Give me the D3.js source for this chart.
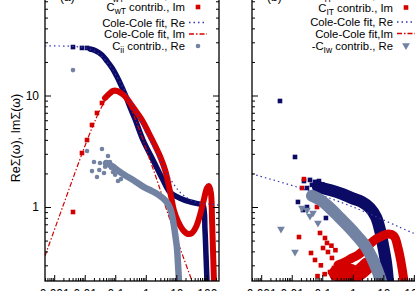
<!DOCTYPE html>
<html><head><meta charset="utf-8">
<script src="https://cdn.jsdelivr.net/npm/d3@7"></script>
<style>body{margin:0;background:#fff} svg{display:block;font-family:"Liberation Sans",Arial,Helvetica,sans-serif}</style>
</head><body><svg id="c" width="415" height="291"></svg>
<script>
// ---------- data (omega, value) ----------
const xTickValues = [0.001, 0.01, 0.1, 1, 10, 100];
const xTickLabels = ["0.001", "0.01", "0.1", "1", "10", "100"];
const yTickValues = [1, 10, 100];
const yTickLabels = ["1", "10", "100"];

// panel (a)
const aFitRe = [[0.0005,27.8],[0.0048,27.5],[0.0149,26.1],[0.0316,23.1],[0.0672,18.4],[0.143,13.2],[0.443,7.41],[1.37,3.99],[4.26,2.15],[13.2,1.36],[40.9,1.11],[127,1.06],[250,1.04]];
const aFitIm = [[0.0005,0.364],[0.00194,1.02],[0.0070,2.69],[0.0173,5.11],[0.0316,7.41],[0.0497,9.12],[0.0724,10.1],[0.106,10.5],[0.154,10.1],[0.242,8.74],[0.410,6.55],[0.751,4.25],[1.37,2.64],[2.51,1.64],[5.34,0.865],[9.76,0.538],[17.8,0.342],[32.6,0.217]];
const aWTRePts = [[0.00413,27.2],[0.00813,26.7],[0.0119,26.7]];
const aWTReBand = [[0.0149,26.1],[0.0234,25.1],[0.0367,23.1],[0.0535,20.4],[0.0781,17.7],[0.114,14.7],[0.154,12.4],[0.208,10.3],[0.303,7.88],[0.443,6.15],[0.809,3.99],[1.72,2.64],[3.66,1.75],[6.21,1.36],[13.2,1.20],[28.1,1.11],[59.7,1.06],[74.8,1.04],[86.9,0.622],[93.7,0.371],[101,0.217]];
const aWTImPts = [[0.00413,0.902],[0.00813,3.05],[0.0119,3.99],[0.0173,5.44],[0.0252,6.97],[0.0367,8.57]];
const aWTImBand = [[0.0461,9.50],[0.0623,10.3],[0.0843,11.0],[0.114,11.0],[0.154,10.5],[0.22,9.70],[0.34,8.22],[0.52,6.97],[0.78,5.91],[1.25,4.61],[2.12,3.45],[3.1,2.75],[4.4,2.10],[5.7,1.54],[7.0,1.18],[8.3,0.940],[11.6,0.733],[16.5,0.622],[24.1,0.573],[32.6,0.585],[44.1,0.662],[59.7,0.848],[80.7,1.18],[101,1.48],[118,1.54],[137,1.31],[148,0.764],[159,0.411],[171,0.217]];
const aIIRePts = [[0.00413,16.9],[0.0119,3.18],[0.0173,2.10],[0.0201,2.53],[0.0252,1.86],[0.0316,2.48],[0.0367,3.31],[0.0428,2.02],[0.0535,2.53],[0.0578,2.87],[0.0672,2.53],[0.0843,2.06],[0.123,1.71],[0.154,1.78],[0.0466,2.30],[0.0720,2.25],[0.099,1.95],[0.0300,2.15]];
const aIIReBand = [[0.0497,2.48],[0.0781,2.33],[0.143,2.06],[0.261,1.86],[0.478,1.68],[0.873,1.51],[1.60,1.39],[2.92,1.26],[4.59,1.13],[6.21,0.980],[7.78,0.764],[9.04,0.585],[10.5,0.429],[11.3,0.315],[12.2,0.217]];

// panel (b)
const bFitRe = [[0.0005,1.98],[0.0187,1.48],[1.02,1.00],[93.7,0.585],[250,0.527]];
const bITRePts = [[0.00412,8.93],[0.0128,2.81],[0.0252,1.71],[0.0396,1.75],[0.0578,1.68],[0.0781,1.71],[0.0316,1.48],[0.0160,1.11],[0.0234,0.940],[0.0316,1.00],[0.132,0.797],[0.0460,1.58],[0.100,1.60]];
const bITReBand = [[0.0724,1.51],[0.179,1.42],[0.443,1.31],[0.942,1.20],[2.00,1.11],[3.66,0.980],[5.75,0.813],[7.78,0.622],[9.76,0.456],[12.2,0.321],[14.2,0.217]];
const bITImPts = [[0.0252,1.78],[0.0217,1.48],[0.0173,0.538],[0.0672,1.00],[0.0843,0.585],[0.123,0.527],[0.143,0.476],[0.106,0.429],[0.0428,0.387],[0.0578,0.335],[0.154,0.395],[0.208,0.349],[0.242,0.284],[0.179,0.261],[0.303,0.231],[0.0900,0.300],[0.120,0.250],[0.270,0.410],[0.200,0.450],[0.0700,0.240]];
const bITImBand = [[0.327,0.302],[0.556,0.321],[0.942,0.349],[1.48,0.371],[2.33,0.411],[3.66,0.466],[5.75,0.516],[9.04,0.549],[14.2,0.573],[22.4,0.549],[30.3,0.429],[37.9,0.321],[47.5,0.217]];
const bITImBand2 = [[0.30,0.255],[0.50,0.240],[0.80,0.262],[1.27,0.250],[2.0,0.270],[3.0,0.300]];
const bIwRePts = [[0.00445,0.635],[0.0128,0.395],[0.0217,0.980],[0.0316,0.940],[0.0497,0.884],[0.0724,0.719],[0.0396,0.830]];
const bIwReBand = [[0.0461,1.26],[0.0843,1.16],[0.179,0.980],[0.381,0.797],[0.809,0.648],[1.48,0.538],[2.71,0.438],[4.26,0.349],[5.75,0.290],[7.21,0.245],[8.39,0.217]];

const legendA = [
  {pre:"C", sub:"wT", post:" contrib., Re", kind:"sq", col:"navy"},
  {pre:"C", sub:"wT", post:" contrib., Im", kind:"sq", col:"red"},
  {pre:"Cole-Cole fit, Re", sub:"", post:"", kind:"dot", col:"blue"},
  {pre:"Cole-Cole fit, Im", sub:"", post:"", kind:"dashdot", col:"red"},
  {pre:"C", sub:"ii", post:" contrib., Re", kind:"circ", col:"gray"}
];
const legendB = [
  {pre:"C", sub:"IT", post:" contrib., Re", kind:"sq", col:"navy"},
  {pre:"C", sub:"IT", post:" contrib., Im", kind:"sq", col:"red"},
  {pre:"Cole-Cole fit, Re", sub:"", post:"", kind:"dot", col:"blue"},
  {pre:"Cole-Cole fit,Im", sub:"", post:"", kind:"dashdot", col:"red"},
  {pre:"-C", sub:"Iw", post:" contrib., Re", kind:"tri", col:"gray"}
];

// ---------- styles ----------
const COL = {navy:"#0b0b66", red:"#d40000", gray:"#7282a2", blue:"#3535b0"};
const W = 174, TOP = -16, BOT = 281;
const x = d3.scaleLog().domain([0.0005, 250]).range([0, W]);
const y = d3.scaleLog().domain([0.217, 100]).range([BOT, TOP]);
const svg = d3.select("#c");

function minorVals(lo, hi) {
  const out = [];
  for (let e = -4; e <= 2; e++) for (let m = 2; m <= 9; m++) {
    const v = m * Math.pow(10, e);
    if (v >= lo && v <= hi) out.push(v);
  }
  return out;
}
const xMinor = minorVals(0.0005, 250);
const yMinor = minorVals(0.217, 100);

const line = d3.line().x(d => x(d[0])).y(d => y(d[1])).curve(d3.curveCatmullRom.alpha(0.5));

function marker(g, kind, col, cx, cy) {
  if (kind === "sq") {
    g.append("rect").attr("x", cx - 2.3).attr("y", cy - 2.3).attr("width", 4.6).attr("height", 4.6).attr("fill", col);
  } else if (kind === "circ") {
    g.append("circle").attr("cx", cx).attr("cy", cy).attr("r", 2.3).attr("fill", col);
  } else if (kind === "tri") {
    g.append("path").attr("d", d3.symbol(d3.symbolTriangle, 26)())
      .attr("transform", `translate(${cx},${cy}) rotate(180)`).attr("fill", col);
  }
}

function drawPanel(x0, id, showYLabels, spec, legend, legX, rows, tag, tagX) {
  const g = svg.append("g").attr("transform", `translate(${x0},0)`);
  g.append("clipPath").attr("id", id).append("rect")
    .attr("x", 0).attr("y", TOP).attr("width", W).attr("height", BOT - TOP);
  const p = g.append("g").attr("clip-path", `url(#${id})`);

  spec.forEach(s => {
    if (s.type === "band") {
      p.append("path").datum(s.data).attr("d", line).attr("fill", "none")
        .attr("stroke", COL[s.col]).attr("stroke-width", s.w)
        .attr("stroke-linejoin", "round").attr("stroke-linecap", "round");
    } else if (s.type === "fit") {
      p.append("path").datum(s.data).attr("d", line).attr("fill", "none")
        .attr("stroke", COL[s.col]).attr("stroke-width", 1.2)
        .attr("stroke-dasharray", s.dash);
    } else {
      s.data.forEach(d => marker(p, s.kind, COL[s.col], x(d[0]), y(d[1])));
    }
  });

  g.append("g").attr("transform", `translate(0,${BOT})`)
    .call(d3.axisBottom(x).tickValues(xTickValues).tickFormat((d, i) => xTickLabels[i]).tickSize(-6).tickPadding(8));
  g.append("g").attr("transform", `translate(0,${BOT})`)
    .call(d3.axisBottom(x).tickValues(xMinor).tickFormat("").tickSize(-3));
  g.append("g").attr("transform", `translate(0,${TOP})`)
    .call(d3.axisTop(x).tickValues(xTickValues).tickFormat("").tickSize(-6));
  g.append("g")
    .call(d3.axisLeft(y).tickValues(yTickValues).tickFormat((d, i) => showYLabels ? yTickLabels[i] : "").tickSize(-6).tickPadding(6));
  g.append("g").call(d3.axisLeft(y).tickValues(yMinor).tickFormat("").tickSize(-3));
  g.append("g").attr("transform", `translate(${W},0)`)
    .call(d3.axisRight(y).tickValues(yTickValues).tickFormat("").tickSize(-6));
  g.append("g").attr("transform", `translate(${W},0)`)
    .call(d3.axisRight(y).tickValues(yMinor).tickFormat("").tickSize(-3));
  g.selectAll(".domain").remove();
  g.selectAll(".tick line").attr("stroke", "#000").attr("stroke-width", 1);
  g.selectAll(".tick text").attr("font-size", 12).attr("fill", "#000")
    .attr("font-family", "Liberation Sans, Arial, sans-serif");
  g.append("rect").attr("x", 0).attr("y", TOP).attr("width", W).attr("height", BOT - TOP)
    .attr("fill", "none").attr("stroke", "#000").attr("stroke-width", 1.3);

  legend.forEach((e, i) => {
    const ry = rows[i];
    const t = g.append("text").attr("x", legX - x0).attr("y", ry + 4).attr("text-anchor", "end")
      .attr("font-size", 11.3).attr("fill", "#000");
    t.append("tspan").text(e.pre);
    if (e.sub) {
      t.append("tspan").attr("dy", 3).attr("font-size", 8.5).text(e.sub);
      t.append("tspan").attr("dy", -3).text(e.post);
    }
    const mx = legX - x0 + 13;
    if (e.kind === "dot" || e.kind === "dashdot") {
      g.append("line").attr("x1", mx - 9).attr("x2", mx + 9).attr("y1", ry).attr("y2", ry)
        .attr("stroke", COL[e.col]).attr("stroke-width", 1.3)
        .attr("stroke-dasharray", e.kind === "dot" ? "1.5,3" : "5,2,1.5,2");
    } else {
      marker(g, e.kind, COL[e.col], mx, ry);
    }
  });
  g.append("text").attr("x", tagX - x0).attr("y", 0.5).attr("font-size", 12).text(tag);
  return g;
}

drawPanel(45, "clipA", true, [
  {type:"band", data:aWTReBand, col:"navy", w:5.5},
  {type:"pts", data:aWTRePts, col:"navy", kind:"sq"},
  {type:"band", data:aWTImBand, col:"red", w:6},
  {type:"pts", data:aWTImPts, col:"red", kind:"sq"},
  {type:"fit", data:aFitRe, col:"blue", dash:"1.5,3"},
  {type:"fit", data:aFitIm, col:"red", dash:"5,2,1.5,2"},
  {type:"band", data:aIIReBand, col:"gray", w:6.5},
  {type:"pts", data:aIIRePts, col:"gray", kind:"circ"}
], legendA, 185, [-5, 7, 22.5, 34, 46], "(a)", 60);

drawPanel(252, "clipB", false, [
  {type:"band", data:bITReBand, col:"navy", w:12},
  {type:"pts", data:bITRePts, col:"navy", kind:"sq"},
  {type:"band", data:bITImBand, col:"red", w:9},
  {type:"band", data:bITImBand2, col:"red", w:16},
  {type:"pts", data:bITImPts, col:"red", kind:"sq"},
  {type:"fit", data:bFitRe, col:"blue", dash:"1.5,3"},
  {type:"band", data:bIwReBand, col:"gray", w:12},
  {type:"pts", data:bIwRePts, col:"gray", kind:"tri"}
], legendB, 393, [-5, 7.5, 22, 33.5, 45.5], "(b)", 267);

svg.append("text").attr("transform", "translate(19.5,138) rotate(-90)")
  .attr("text-anchor", "middle").attr("font-size", 12.5).text("ReΣ(ω), ImΣ(ω)");
</script></body></html>
